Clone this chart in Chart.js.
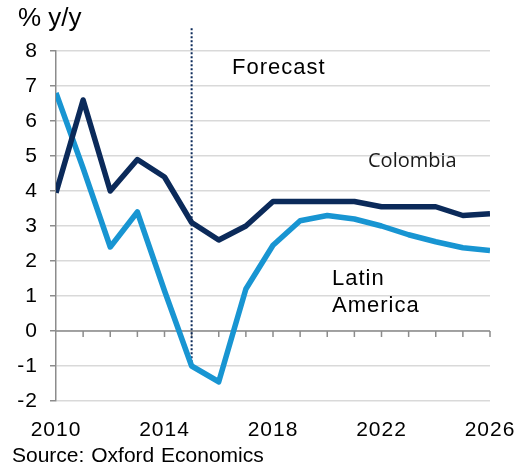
<!DOCTYPE html>
<html>
<head>
<meta charset="utf-8">
<script src="https://cdn.jsdelivr.net/npm/chart.js@4.4.0/dist/chart.umd.min.js"></script>
<style>
  body { margin: 0; background: #fff; }
  #wrap { width: 519px; height: 468px; }
</style>
</head>
<body>
<div id="wrap"><canvas id="myChart" width="519" height="468"></canvas></div>
<script>
'use strict';

//********************* Data *************************/
let years = [2010, 2011, 2012, 2013, 2014, 2015, 2016, 2017, 2018, 2019, 2020, 2021, 2022, 2023, 2024, 2025, 2026];
let colombia = [3.95, 6.6, 4.0, 4.9, 4.4, 3.1, 2.6, 3.0, 3.7, 3.7, 3.7, 3.7, 3.55, 3.55, 3.55, 3.3, 3.35];
let latinAmerica = [6.8, 4.65, 2.4, 3.4, 1.15, -1.0, -1.45, 1.2, 2.45, 3.15, 3.3, 3.2, 3.0, 2.75, 2.55, 2.38, 2.3];
let yTicks = [-2, -1, 0, 1, 2, 3, 4, 5, 6, 7, 8];
let xLabelYears = [2010, 2014, 2018, 2022, 2026];
let forecastStart = 2015;

let navy = '#0b2a5a';
let lightBlue = '#1895d2';
let axisGrey = '#8c8c8c';
let gridGrey = '#d9d9d9';

function toPoints(values){
  let pts = [];
  for(let i = 0; i < years.length; i++){
    pts.push({x: years[i], y: values[i]});
  }
  return pts;
}

//********************** Extra drawing ****************************/
// zero axis with year ticks, forecast divider and the text notes
let extras = {
  id: 'extras',
  beforeDraw(chart){
    // slightly looser text for the tick labels
    chart.ctx.letterSpacing = '1px';
  },
  beforeDatasetsDraw(chart){
    let ctx = chart.ctx;
    let xs = chart.scales.x;
    let ys = chart.scales.y;
    let zeroY = ys.getPixelForValue(0);

    ctx.save();
    ctx.strokeStyle = axisGrey;
    ctx.lineWidth = 1.5;
    ctx.beginPath();
    ctx.moveTo(xs.left, zeroY);
    ctx.lineTo(xs.right, zeroY);
    for(let i = 1; i < years.length; i++){
      let px = xs.getPixelForValue(years[i]);
      ctx.moveTo(px, zeroY);
      ctx.lineTo(px, zeroY + 6);
    }
    ctx.stroke();

    // forecast divider
    let fx = xs.getPixelForValue(forecastStart);
    let fIdx = years.indexOf(forecastStart);
    ctx.strokeStyle = navy;
    ctx.lineWidth = 2;
    ctx.setLineDash([2, 2]);
    ctx.beginPath();
    ctx.moveTo(fx, ys.getPixelForValue(8.65));
    ctx.lineTo(fx, ys.getPixelForValue(latinAmerica[fIdx]));
    ctx.stroke();
    ctx.restore();
  },
  afterDraw(chart){
    let ctx = chart.ctx;
    ctx.save();
    ctx.fillStyle = '#000';
    ctx.textAlign = 'left';
    ctx.textBaseline = 'alphabetic';
    ctx.letterSpacing = '0px';

    ctx.font = '26px "Liberation Sans", Arial';
    ctx.fillText('% y/y', 18, 26);

    ctx.letterSpacing = '1px';
    ctx.font = '22px "Liberation Sans", Arial';
    ctx.fillText('Forecast', 232, 74);

    ctx.fillText('Latin', 332, 285);
    ctx.fillText('America', 332, 312);

    ctx.letterSpacing = '0px';
    ctx.fillStyle = '#1a1a1a';
    ctx.font = '20px "Open Sans", sans-serif';
    ctx.fillText('Colombia', 368, 167);

    ctx.fillStyle = '#000';
    ctx.font = '21px "Liberation Sans", Arial';
    ctx.wordSpacing = '1px';
    ctx.fillText('Source: Oxford Economics', 12, 462);
    ctx.restore();
  }
};

//********************** Chart ****************************/
let canvasElement = document.getElementById('myChart');

const myChart = new Chart(canvasElement, {
  type: 'line',
  data: {
    datasets: [{
      label: 'Colombia',
      data: toPoints(colombia),
      borderColor: navy,
      borderWidth: 5.5,
      pointRadius: 0,
      borderJoinStyle: 'round',
      tension: 0
    },
    {
      label: 'Latin America',
      data: toPoints(latinAmerica),
      borderColor: lightBlue,
      borderWidth: 5.5,
      pointRadius: 0,
      borderJoinStyle: 'round',
      tension: 0
    }]
  },
  options: {
    responsive: false,
    animation: false,
    layout: {
      padding: {top: 51, right: 29, left: 0, bottom: 0}
    },
    plugins: {
      legend: {display: false},
      tooltip: {enabled: false}
    },
    scales: {
      x: {
        type: 'linear',
        min: years[0],
        max: years[years.length - 1],
        afterFit: function(s){
          s.height = 67;
          s.paddingLeft = 0;
          s.paddingRight = 0;
        },
        grid: {display: false, drawTicks: false},
        border: {display: false},
        afterBuildTicks: function(s){
          s.ticks = xLabelYears.map(function(v){ return {value: v}; });
        },
        ticks: {
          autoSkip: false,
          maxRotation: 0,
          padding: 17,
          color: '#000',
          font: {family: '"Liberation Sans", Arial', size: 21},
          callback: function(v){ return String(v); }
        }
      },
      y: {
        min: yTicks[0],
        max: yTicks[yTicks.length - 1],
        afterFit: function(s){ s.width = 56; },
        afterBuildTicks: function(s){
          s.ticks = yTicks.map(function(v){ return {value: v}; });
        },
        grid: {
          color: gridGrey,
          lineWidth: 1.5,
          tickLength: 6,
          tickColor: axisGrey,
          tickWidth: 1.5
        },
        border: {color: axisGrey, width: 1.5},
        ticks: {
          padding: 12,
          color: '#000',
          font: {family: '"Liberation Sans", Arial', size: 21}
        }
      }
    }
  },
  plugins: [extras]
});
</script>
</body>
</html>
